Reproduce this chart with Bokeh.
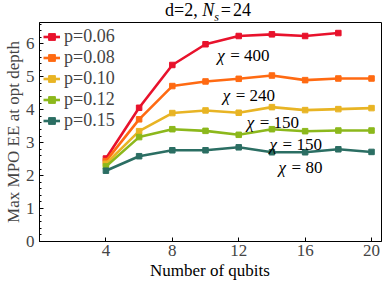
from bokeh.plotting import figure
from bokeh.layouts import column
from bokeh.models import ColumnDataSource, Range1d, FixedTicker, Legend, LegendItem, Div
from bokeh.core.properties import value
from bokeh.embed import file_html
from bokeh.resources import INLINE

# ---- data ----
qubits = [4, 6, 8, 10, 12, 14, 16, 18, 20]
p006 = [2.52, 4.06, 5.36, 5.99, 6.24, 6.29, 6.24, 6.33]
p008 = [2.44, 3.71, 4.72, 4.86, 4.94, 5.04, 4.90, 4.95, 4.95]
p010 = [2.36, 3.35, 3.90, 3.98, 3.91, 4.08, 3.99, 4.02, 4.05]
p012 = [2.28, 3.17, 3.41, 3.36, 3.24, 3.41, 3.35, 3.37, 3.37]
p015 = [2.15, 2.59, 2.77, 2.77, 2.86, 2.71, 2.71, 2.80, 2.72]
series_labels = ["p=0.06", "p=0.08", "p=0.10", "p=0.12", "p=0.15"]
series_values = [p006, p008, p010, p012, p015]
colors = ["#e8122c", "#ff6a12", "#e8b424", "#8cb81c", "#2b6e63"]

x_ticks = [4, 8, 12, 16, 20]
chi_values = ["400", "240", "150", "150", "80"]
chi_x = [10.70, 11.04, 12.48, 13.86, 14.40]
chi_y = [5.64, 4.42, 3.61, 2.95, 2.24]

FONT = "Liberation Serif"

title = Div(text='d=2, <i>N</i><sub style="font-size:12px;font-style:italic">s</sub>'
                 '<span style="margin:0 2px">=</span>24',
            width=382, height=20,
            styles={"font-family": FONT, "font-size": "18px", "line-height": "20px",
                    "padding-left": "165px", "margin": "0", "color": "black"})

xlabel = Div(text="Number of qubits", width=382, height=15,
             styles={"font-family": FONT, "font-size": "17px", "line-height": "15px",
                     "padding-left": "150px", "margin": "0", "color": "black"})

p = figure(width=382, height=243, output_backend="svg", toolbar_location=None,
           x_range=Range1d(0, 20.6), y_range=Range1d(0, 6.65),
           min_border_left=35, min_border_right=1, min_border_top=2, min_border_bottom=22,
           background_fill_color="white", border_fill_color="white")
p.grid.visible = False
p.outline_line_color = "black"
p.outline_line_width = 1

xa = p.xaxis[0]
xa.ticker = FixedTicker(ticks=x_ticks)
ya = p.yaxis[0]
ya.axis_label = "Max MPO EE at opt depth"
ya.ticker.num_minor_ticks = 5
for ax in (xa, ya):
    ax.axis_label_text_font = FONT
    ax.axis_label_text_font_size = "17px"
    ax.axis_label_text_font_style = "normal"
    ax.axis_label_standoff = 0
    ax.major_label_text_font = FONT
    ax.major_label_text_font_size = "17px"
    ax.major_tick_in = 4
    ax.major_tick_out = 0
    ax.minor_tick_in = 2
    ax.minor_tick_out = 0
    ax.axis_line_color = "black"
    ax.major_tick_line_color = "black"
    ax.minor_tick_line_color = "black"
xa.major_label_standoff = 3
ya.major_label_standoff = 5
xa.minor_tick_line_color = None

items = []
for lab, vals, col in zip(series_labels, series_values, colors):
    src = ColumnDataSource(dict(x=qubits[:len(vals)], y=vals))
    r1 = p.line("x", "y", source=src, line_color=col, line_width=2.6)
    r2 = p.scatter("x", "y", source=src, marker="square", size=5.5,
                   fill_color=col, line_color=col)
    items.append(LegendItem(label=lab, renderers=[r1, r2]))

legend = Legend(items=items, location="top_left", margin=4, padding=0, spacing=0,
                label_height=21, glyph_height=21, glyph_width=17, label_standoff=4,
                label_text_font=FONT, label_text_font_size="18px",
                background_fill_alpha=0, border_line_color=None)
p.add_layout(legend, "center")

# chi annotations
csrc = ColumnDataSource(dict(x=chi_x, y=chi_y, chi=["χ"] * len(chi_values),
                             rest=["= " + v for v in chi_values]))
p.text("x", "y", text="chi", source=csrc, text_font=value(FONT),
       text_font_size="17px", text_font_style="italic",
       text_align="left", text_baseline="alphabetic", text_color="black")
p.text("x", "y", text="rest", source=csrc, text_font=value(FONT),
       text_font_size="17px", text_align="left", text_baseline="alphabetic",
       text_color="black", x_offset=13)

layout = column(title, p, xlabel, spacing=0)
open("out.html", "w").write(file_html(layout, INLINE))
